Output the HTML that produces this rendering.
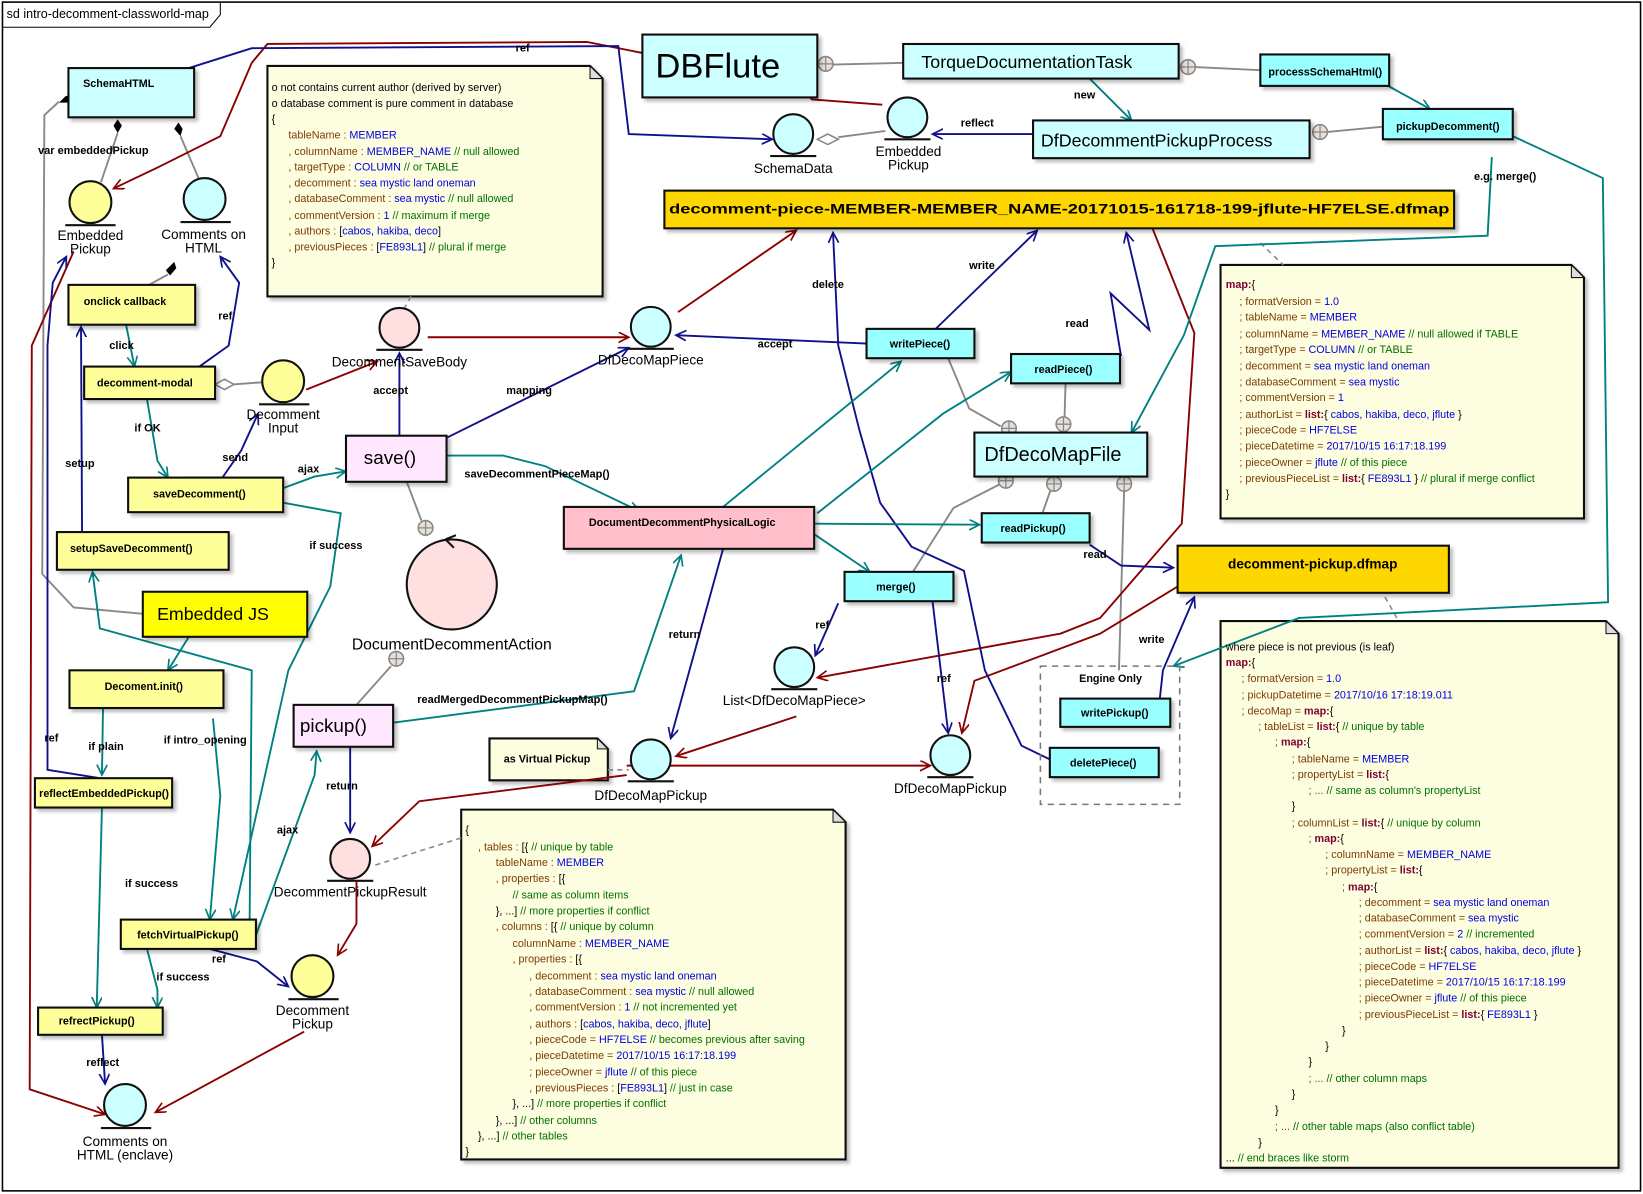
<!DOCTYPE html>
<html><head><meta charset="utf-8"><style>
html,body{margin:0;padding:0;background:#fff}
svg{display:block}
text{font-family:"Liberation Sans","Noto Sans CJK JP",sans-serif}
.b{font-weight:bold;font-size:10.3px}
.lb{font-size:10.5px;font-weight:bold}
.n{font-size:10.3px}
.k{fill:#7a3d00}.v{fill:#0000e0}.c{fill:#007000}.m{fill:#7a0030;font-weight:bold}
</style></head><body>
<svg width="1643" height="1194" viewBox="0 0 1568 1140" xmlns="http://www.w3.org/2000/svg">
<defs>
<marker id="aR" markerWidth="12" markerHeight="12" refX="10" refY="5" orient="auto" markerUnits="userSpaceOnUse"><path d="M0,0 L10,5 L0,10" fill="none" stroke="#8b0000" stroke-width="1.6"/></marker>
<marker id="aB" markerWidth="12" markerHeight="12" refX="10" refY="5" orient="auto" markerUnits="userSpaceOnUse"><path d="M0,0 L10,5 L0,10" fill="none" stroke="#10108a" stroke-width="1.6"/></marker>
<marker id="aT" markerWidth="12" markerHeight="12" refX="10" refY="5" orient="auto" markerUnits="userSpaceOnUse"><path d="M0,0 L10,5 L0,10" fill="none" stroke="#008080" stroke-width="1.6"/></marker>
<filter id="sh" x="-5%" y="-5%" width="115%" height="125%"><feDropShadow dx="3" dy="3" stdDeviation="1.5" flood-color="#000" flood-opacity="0.25"/></filter>
</defs>
<rect x="0" y="0" width="1568" height="1140" fill="#fff"/>
<rect x="2" y="2" width="1564" height="1135" fill="none" stroke="#000" stroke-width="1.5"/>
<path d="M2,26 L200,26 L210,14 L210,2" fill="none" stroke="#000"/>
<text x="6" y="17" font-size="12">sd intro-decomment-classworld-map</text>

<!-- notes -->
<g filter="url(#sh)" stroke="#111" stroke-width="2" fill="#fdfde0">
<path d="M255,63 L563,63 L575,75 L575,283 L255,283 Z"/>
<path d="M1165,253 L1500,253 L1512,265 L1512,495 L1165,495 Z"/>
<path d="M1165,593 L1533,593 L1545,605 L1545,1115 L1165,1115 Z"/>
<path d="M440,773 L795,773 L807,785 L807,1107 L440,1107 Z"/>
<path d="M467,705 L570,705 L580,715 L580,745 L467,745 Z"/>
</g>
<g fill="#ddd" stroke="#111"><path d="M563,63 L563,75 L575,75 Z"/><path d="M1500,253 L1500,265 L1512,265 Z"/><path d="M1533,593 L1533,605 L1545,605 Z"/><path d="M795,773 L795,785 L807,785 Z"/><path d="M570,705 L570,715 L580,715Z"/></g>

<g stroke="#888" stroke-dasharray="5,4" fill="none" stroke-width="1.5">
<path d="M392,283 L386,294"/><path d="M1203,232 L1225,253"/><path d="M1322,570 L1335,593"/><path d="M358,826 L440,800"/><path d="M580,735 L600,735"/>
</g>

<g stroke="#888" stroke-width="1.8" fill="none">
<path d="M780,62 L862,60"/><path d="M1141,64 L1203,67"/><path d="M1267,126 L1320,121"/>
<path d="M800,131 L845,125"/>
<path d="M56,97 L42,110 L40,548 L70,580 L136,586"/>
<path d="M112,127 L96,174"/><path d="M172,130 L190,172"/>
<path d="M160,262 L142,272"/>
<path d="M222,367 L250,365"/>
<path d="M388,460 L402,497"/>
<path d="M340,673 L373,636"/>
<path d="M905,342 L925,390 L955,407"/><path d="M1017,366 L1016,400"/>
<path d="M955,462 L910,485 L870,548"/><path d="M1003,467 L995,490"/><path d="M1073,467 L1068,640"/>
</g>
<g fill="#000"><path d="M62,92 L68,90 L64,98 L56,98 Z"/><path d="M112,114 L116,120 L112,127 L108,120 Z"/><path d="M170,117 L174,123 L172,130 L166,123 Z"/><path d="M166,250 L168,256 L162,263 L158,258 Z"/></g>
<g fill="#fff" stroke="#888" stroke-width="1.5"><path d="M780,133 L790,128 L800,133 L790,138 Z"/><path d="M205,367 L214,362 L223,367 L214,372 Z"/></g>
<g fill="#e8e0d8" stroke="#888" stroke-width="1.5">
<circle cx="788" cy="61" r="7"/><circle cx="1134" cy="64" r="7"/><circle cx="1260" cy="126" r="7"/>
<circle cx="406" cy="504" r="7"/><circle cx="378" cy="629" r="7"/>
<circle cx="963" cy="409" r="7"/><circle cx="1015" cy="405" r="7"/><circle cx="960" cy="459" r="7"/><circle cx="1006" cy="462" r="7"/><circle cx="1073" cy="462" r="7"/>
</g>
<g stroke="#888" stroke-width="1.2"><path d="M781,61h14M788,54v14M1127,64h14M1134,57v14M1253,126h14M1260,119v14M399,504h14M406,497v14M371,629h14M378,622v14M956,409h14M963,402v14M1008,405h14M1015,398v14M953,459h14M960,452v14M999,462h14M1006,455v14M1066,462h14M1073,455v14"/></g>

<g stroke="#8b0000" stroke-width="1.8" fill="none">
<path d="M842,100 L775,95 L760,80 L560,40 L255,42 L240,60 L210,130 L150,160 L108,180" marker-end="url(#aR)"/>
<path d="M70,240 L30,330 L28,1040 L100,1064" marker-end="url(#aR)"/>
<path d="M292,372 L360,345" marker-end="url(#aR)"/>
<path d="M408,322 L600,322" marker-end="url(#aR)"/>
<path d="M647,298 L760,220" marker-end="url(#aR)"/>
<path d="M1100,218 L1140,318 L1128,500 L1050,590 L1012,605 L780,647" marker-end="url(#aR)"/>
<path d="M1124,560 L1050,605 L930,650 L918,700" marker-end="url(#aR)"/>
<path d="M598,731 L888,731" marker-end="url(#aR)"/>
<path d="M760,684 L645,722" marker-end="url(#aR)"/>
<path d="M598,740 L400,765 L355,808" marker-end="url(#aR)"/>
<path d="M340,842 L340,882 L322,912" marker-end="url(#aR)"/>
<path d="M290,985 L148,1062" marker-end="url(#aR)"/>
</g>

<g stroke="#10108a" stroke-width="1.8" fill="none">
<path d="M180,65 L240,46 L590,44 L600,128 L737,133" marker-end="url(#aB)"/>
<path d="M985,128 L890,128" marker-end="url(#aB)"/>
<path d="M190,350 L218,330 L228,270 L210,245" marker-end="url(#aB)"/>
<path d="M95,743 L45,735 L45,330 L50,270 L63,245" marker-end="url(#aB)"/>
<path d="M78,508 L77,312" marker-end="url(#aB)"/>
<path d="M175,456 L212,456 L230,430 L246,395" marker-end="url(#aB)"/>
<path d="M381,416 L381,337" marker-end="url(#aB)"/>
<path d="M426,418 L600,332" marker-end="url(#aB)"/>
<path d="M827,328 L645,320" marker-end="url(#aB)"/>
<path d="M893,314 L990,220" marker-end="url(#aB)"/>
<path d="M1070,340 L1060,280 L1097,315 L1075,222" marker-end="url(#aB)"/>
<path d="M1002,725 L975,712 L940,640 L920,545 L870,522 L840,480 L820,410 L800,330 L795,222" marker-end="url(#aB)"/>
<path d="M1040,520 L1070,540 L1120,542" marker-end="url(#aB)"/>
<path d="M1107,667 L1110,640 L1140,570" marker-end="url(#aB)"/>
<path d="M690,524 L640,705" marker-end="url(#aB)"/>
<path d="M334,713 L334,795" marker-end="url(#aB)"/>
<path d="M200,906 L245,918 L275,942" marker-end="url(#aB)"/>
<path d="M97,988 L100,1035" marker-end="url(#aB)"/>
<path d="M890,574 L905,700" marker-end="url(#aB)"/>
<path d="M800,576 L778,626" marker-end="url(#aB)"/>
</g>

<g stroke="#008080" stroke-width="1.8" fill="none">
<path d="M120,310 L128,350" marker-end="url(#aT)"/>
<path d="M140,381 L150,440 L160,456" marker-end="url(#aT)"/>
<path d="M270,466 L300,455 L330,450" marker-end="url(#aT)"/>
<path d="M426,435 L480,435 L520,445 L610,488" marker-end="url(#aT)"/>
<path d="M270,480 L325,490 L315,560 L275,640 L222,878" marker-end="url(#aT)"/>
<path d="M375,690 L605,660 L650,530" marker-end="url(#aT)"/>
<path d="M244,893 L300,740 L302,717" marker-end="url(#aT)"/>
<path d="M140,906 L150,945 L150,962" marker-end="url(#aT)"/>
<path d="M98,676 L97,740" marker-end="url(#aT)"/>
<path d="M203,686 L210,760 L200,878" marker-end="url(#aT)"/>
<path d="M97,771 L92,962" marker-end="url(#aT)"/>
<path d="M180,608 L160,640" marker-end="url(#aT)"/>
<path d="M238,878 L240,640 L95,600 L88,546" marker-end="url(#aT)"/>
<path d="M777,510 L830,546" marker-end="url(#aT)"/>
<path d="M777,500 L935,501" marker-end="url(#aT)"/>
<path d="M690,484 L860,345" marker-end="url(#aT)"/>
<path d="M780,490 L900,395 L965,355" marker-end="url(#aT)"/>
<path d="M1424,150 L1420,225 L1160,235 L1130,320 L1080,413" marker-end="url(#aT)"/>
<path d="M1444,130 L1530,170 L1535,575 L1240,590 L1120,636" marker-end="url(#aT)"/>
<path d="M1325,82 L1365,104" marker-end="url(#aT)"/>
<path d="M1040,75 L1080,115" marker-end="url(#aT)"/>
</g>

<g stroke="#111" stroke-width="2" filter="url(#sh)">
<rect x="65" y="65" width="120" height="47" fill="#ccffff"/>
<rect x="613" y="33" width="167" height="60" fill="#ccffff"/>
<rect x="862" y="42" width="263" height="33" fill="#ccffff"/>
<rect x="1203" y="52" width="123" height="30" fill="#99ffff"/>
<rect x="1320" y="104" width="124" height="29" fill="#99ffff"/>
<rect x="986" y="115" width="264" height="36" fill="#ccffff"/>
<rect x="634" y="182" width="754" height="36" fill="#ffd700"/>
<rect x="1124" y="521" width="259" height="45" fill="#ffd700"/>
<rect x="827" y="314" width="103" height="28" fill="#99ffff"/>
<rect x="965" y="338" width="104" height="28" fill="#99ffff"/>
<rect x="930" y="413" width="165" height="42" fill="#ccffff"/>
<rect x="937" y="490" width="103" height="28" fill="#99ffff"/>
<rect x="806" y="546" width="104" height="28" fill="#99ffff"/>
<rect x="538" y="484" width="239" height="40" fill="#ffc0cb"/>
<rect x="330" y="416" width="96" height="44" fill="#ffe8ff"/>
<rect x="280" y="673" width="95" height="40" fill="#ffe8ff"/>
<rect x="65" y="272" width="121" height="38" fill="#ffff99"/>
<rect x="80" y="350" width="125" height="31" fill="#ffff99"/>
<rect x="122" y="456" width="148" height="33" fill="#ffff99"/>
<rect x="54" y="508" width="164" height="36" fill="#ffff99"/>
<rect x="136" y="565" width="157" height="43" fill="#ffff00"/>
<rect x="66" y="640" width="147" height="36" fill="#ffff99"/>
<rect x="33" y="743" width="131" height="28" fill="#ffff99"/>
<rect x="115" y="878" width="129" height="28" fill="#ffff99"/>
<rect x="36" y="962" width="119" height="26" fill="#ffff99"/>
<rect x="1012" y="667" width="105" height="27" fill="#99ffff"/>
<rect x="1002" y="714" width="104" height="28" fill="#99ffff"/>
</g>
<rect x="993" y="636" width="133" height="132" fill="none" stroke="#777" stroke-width="1.5" stroke-dasharray="6,5"/>

<g stroke="#111" stroke-width="2">
<circle cx="86" cy="193" r="20" fill="#ffff99"/><path d="M62,215h48"/>
<circle cx="195" cy="190" r="20" fill="#ccffff"/><path d="M172,212h48"/>
<circle cx="757" cy="128" r="19" fill="#ccffff"/><path d="M735,149h44"/>
<circle cx="866" cy="112" r="19" fill="#ccffff"/><path d="M844,133h44"/>
<circle cx="381" cy="313" r="19" fill="#ffe0e0"/><path d="M359,334h44"/>
<circle cx="621" cy="312" r="19" fill="#ccffff"/><path d="M599,333h44"/>
<circle cx="270" cy="364" r="20" fill="#ffff99"/><path d="M247,386h48"/>
<circle cx="431" cy="558" r="43" fill="#ffe0e0"/><path d="M425,515 l10,-4 M425,515 l8,8" fill="none"/>
<circle cx="758" cy="637" r="19" fill="#ccffff"/><path d="M736,658h44"/>
<circle cx="621" cy="725" r="19" fill="#ccffff"/><path d="M599,746h44"/>
<circle cx="907" cy="721" r="19" fill="#ccffff"/><path d="M885,742h44"/>
<circle cx="334" cy="820" r="19" fill="#ffe0e0"/><path d="M312,841h44"/>
<circle cx="298" cy="932" r="20" fill="#ffff99"/><path d="M275,954h48"/>
<circle cx="119" cy="1055" r="20" fill="#ccffff"/><path d="M96,1077h48"/>
</g>

<g text-anchor="middle">
<text x="113" y="83" class="b">SchemaHTML</text>
<text x="685" y="74" font-size="33">DBFlute</text>
<text x="980" y="65" font-size="17">TorqueDocumentationTask</text>
<text x="1265" y="72" class="b">processSchemaHtml()</text>
<text x="1382" y="124" class="b">pickupDecomment()</text>
<text x="1104" y="140" font-size="17">DfDecommentPickupProcess</text>
<text x="1011" y="204" font-size="13" font-weight="bold" textLength="745" lengthAdjust="spacingAndGlyphs">decomment-piece-MEMBER-MEMBER_NAME-20171015-161718-199-jflute-HF7ELSE.dfmap</text>
<text x="1253" y="543" font-size="13" font-weight="bold">decomment-pickup.dfmap</text>
<text x="878" y="332" class="b">writePiece()</text>
<text x="1015" y="356" class="b">readPiece()</text>
<text x="1005" y="440" font-size="19">DfDecoMapFile</text>
<text x="986" y="508" class="b">readPickup()</text>
<text x="855" y="564" class="b">merge()</text>
<text x="651" y="502" class="b">DocumentDecommentPhysicalLogic</text>
<text x="372" y="443" font-size="18">save()</text>
<text x="318" y="699" font-size="18">pickup()</text>
<text x="119" y="291" class="b">onclick callback</text>
<text x="138" y="369" class="b">decomment-modal</text>
<text x="190" y="475" class="b">saveDecomment()</text>
<text x="125" y="527" class="b">setupSaveDecomment()</text>
<text x="203" y="592" font-size="17">Embedded JS</text>
<text x="137" y="659" class="b">Decoment.init()</text>
<text x="99" y="761" class="b">reflectEmbeddedPickup()</text>
<text x="179" y="896" class="b">fetchVirtualPickup()</text>
<text x="92" y="978" class="b">refrectPickup()</text>
<text x="1060" y="651" class="b">Engine Only</text>
<text x="1064" y="684" class="b">writePickup()</text>
<text x="1053" y="732" class="b">deletePiece()</text>
<text x="522" y="728" class="b">as Virtual Pickup</text>
<g font-size="13">
<text x="86" y="229">Embedded</text><text x="86" y="242">Pickup</text>
<text x="194" y="228">Comments on</text><text x="194" y="241">HTML</text>
<text x="757" y="165">SchemaData</text>
<text x="867" y="149">Embedded</text><text x="867" y="162">Pickup</text>
<text x="381" y="350">DecommentSaveBody</text>
<text x="621" y="348">DfDecoMapPiece</text>
<text x="270" y="400">Decomment</text><text x="270" y="413">Input</text>
<text x="431" y="620" font-size="15">DocumentDecommentAction</text>
<text x="758" y="673">List&lt;DfDecoMapPiece&gt;</text>
<text x="621" y="764">DfDecoMapPickup</text>
<text x="907" y="757">DfDecoMapPickup</text>
<text x="334" y="856">DecommentPickupResult</text>
<text x="298" y="969">Decomment</text><text x="298" y="982">Pickup</text>
<text x="119" y="1094">Comments on</text><text x="119" y="1107">HTML (enclave)</text>
</g>
</g>

<g class="lb">
<text x="492" y="49">ref</text>
<text x="917" y="121">reflect</text>
<text x="1025" y="94">new</text>
<text x="1407" y="172">e.g. merge()</text>
<text x="36" y="147">var embeddedPickup</text>
<text x="208" y="305">ref</text>
<text x="104" y="333">click</text>
<text x="128" y="412">if OK</text>
<text x="62" y="446">setup</text>
<text x="212" y="440">send</text>
<text x="284" y="451">ajax</text>
<text x="356" y="376">accept</text>
<text x="483" y="376">mapping</text>
<text x="723" y="332">accept</text>
<text x="925" y="257">write</text>
<text x="1017" y="312">read</text>
<text x="775" y="275">delete</text>
<text x="1034" y="533">read</text>
<text x="1087" y="614">write</text>
<text x="443" y="456">saveDecommentPieceMap()</text>
<text x="295" y="524">if success</text>
<text x="398" y="671">readMergedDecommentPickupMap()</text>
<text x="638" y="609">return</text>
<text x="311" y="754">return</text>
<text x="264" y="796">ajax</text>
<text x="778" y="600">ref</text>
<text x="894" y="651">ref</text>
<text x="84" y="716">if plain</text>
<text x="156" y="710">if intro_opening</text>
<text x="42" y="708">ref</text>
<text x="119" y="847">if success</text>
<text x="149" y="936">if success</text>
<text x="202" y="919">ref</text>
<text x="82" y="1018">reflect</text>
</g>

<g class="n">
<text x="259" y="87">o not contains current author (derived by server)</text>
<text x="259" y="102">o database comment is pure comment in database</text>
<text x="259" y="117">{</text>
<text x="275" y="132"><tspan class="k">tableName : </tspan><tspan class="v">MEMBER</tspan></text>
<text x="275" y="148"><tspan class="k">, columnName : </tspan><tspan class="v">MEMBER_NAME </tspan><tspan class="c">// null allowed</tspan></text>
<text x="275" y="163"><tspan class="k">, targetType : </tspan><tspan class="v">COLUMN </tspan><tspan class="c">// or TABLE</tspan></text>
<text x="275" y="178"><tspan class="k">, decomment : </tspan><tspan class="v">sea mystic land oneman</tspan></text>
<text x="275" y="193"><tspan class="k">, databaseComment : </tspan><tspan class="v">sea mystic </tspan><tspan class="c">// null allowed</tspan></text>
<text x="275" y="209"><tspan class="k">, commentVersion : </tspan><tspan class="v">1 </tspan><tspan class="c">// maximum if merge</tspan></text>
<text x="275" y="224"><tspan class="k">, authors : </tspan>[<tspan class="v">cabos, hakiba, deco</tspan>]</text>
<text x="275" y="239"><tspan class="k">, previousPieces : </tspan>[<tspan class="v">FE893L1</tspan>] <tspan class="c">// plural if merge</tspan></text>
<text x="259" y="254">}</text>
</g>

<g class="n">
<text x="1170" y="275"><tspan class="m">map:</tspan>{</text>
<text x="1183" y="291" class="k">; formatVersion = <tspan class="v">1.0</tspan></text>
<text x="1183" y="306" class="k">; tableName = <tspan class="v">MEMBER</tspan></text>
<text x="1183" y="322" class="k">; columnName = <tspan class="v">MEMBER_NAME </tspan><tspan class="c">// null allowed if TABLE</tspan></text>
<text x="1183" y="337" class="k">; targetType = <tspan class="v">COLUMN </tspan><tspan class="c">// or TABLE</tspan></text>
<text x="1183" y="353" class="k">; decomment = <tspan class="v">sea mystic land oneman</tspan></text>
<text x="1183" y="368" class="k">; databaseComment = <tspan class="v">sea mystic</tspan></text>
<text x="1183" y="383" class="k">; commentVersion = <tspan class="v">1</tspan></text>
<text x="1183" y="399" class="k">; authorList = <tspan class="m">list:</tspan><tspan fill="#000">{ </tspan><tspan class="v">cabos, hakiba, deco, jflute </tspan><tspan fill="#000">}</tspan></text>
<text x="1183" y="414" class="k">; pieceCode = <tspan class="v">HF7ELSE</tspan></text>
<text x="1183" y="429" class="k">; pieceDatetime = <tspan class="v">2017/10/15 16:17:18.199</tspan></text>
<text x="1183" y="445" class="k">; pieceOwner = <tspan class="v">jflute </tspan><tspan class="c">// of this piece</tspan></text>
<text x="1183" y="460" class="k">; previousPieceList = <tspan class="m">list:</tspan><tspan fill="#000">{ </tspan><tspan class="v">FE893L1 </tspan><tspan fill="#000">} </tspan><tspan class="c">// plural if merge conflict</tspan></text>
<text x="1170" y="475">}</text>
</g>

<g class="n">
<text x="1170" y="621">where piece is not previous (is leaf)</text>
<text x="1170" y="636"><tspan class="m">map:</tspan>{</text>
<text x="1185" y="651" class="k">; formatVersion = <tspan class="v">1.0</tspan></text>
<text x="1185" y="667" class="k">; pickupDatetime = <tspan class="v">2017/10/16 17:18:19.011</tspan></text>
<text x="1185" y="682" class="k">; decoMap = <tspan class="m">map:</tspan><tspan fill="#000">{</tspan></text>
<text x="1201" y="697" class="k">; tableList = <tspan class="m">list:</tspan><tspan fill="#000">{ </tspan><tspan class="c">// unique by table</tspan></text>
<text x="1217" y="712" class="k">; <tspan class="m">map:</tspan><tspan fill="#000">{</tspan></text>
<text x="1233" y="728" class="k">; tableName = <tspan class="v">MEMBER</tspan></text>
<text x="1233" y="743" class="k">; propertyList = <tspan class="m">list:</tspan><tspan fill="#000">{</tspan></text>
<text x="1249" y="758" class="k">; ... <tspan class="c">// same as column's propertyList</tspan></text>
<text x="1233" y="773">}</text>
<text x="1233" y="789" class="k">; columnList = <tspan class="m">list:</tspan><tspan fill="#000">{ </tspan><tspan class="c">// unique by column</tspan></text>
<text x="1249" y="804" class="k">; <tspan class="m">map:</tspan><tspan fill="#000">{</tspan></text>
<text x="1265" y="819" class="k">; columnName = <tspan class="v">MEMBER_NAME</tspan></text>
<text x="1265" y="834" class="k">; propertyList = <tspan class="m">list:</tspan><tspan fill="#000">{</tspan></text>
<text x="1281" y="850" class="k">; <tspan class="m">map:</tspan><tspan fill="#000">{</tspan></text>
<text x="1297" y="865" class="k">; decomment = <tspan class="v">sea mystic land oneman</tspan></text>
<text x="1297" y="880" class="k">; databaseComment = <tspan class="v">sea mystic</tspan></text>
<text x="1297" y="895" class="k">; commentVersion = <tspan class="v">2 </tspan><tspan class="c">// incremented</tspan></text>
<text x="1297" y="911" class="k">; authorList = <tspan class="m">list:</tspan><tspan fill="#000">{ </tspan><tspan class="v">cabos, hakiba, deco, jflute </tspan><tspan fill="#000">}</tspan></text>
<text x="1297" y="926" class="k">; pieceCode = <tspan class="v">HF7ELSE</tspan></text>
<text x="1297" y="941" class="k">; pieceDatetime = <tspan class="v">2017/10/15 16:17:18.199</tspan></text>
<text x="1297" y="956" class="k">; pieceOwner = <tspan class="v">jflute </tspan><tspan class="c">// of this piece</tspan></text>
<text x="1297" y="972" class="k">; previousPieceList = <tspan class="m">list:</tspan><tspan fill="#000">{ </tspan><tspan class="v">FE893L1 </tspan><tspan fill="#000">}</tspan></text>
<text x="1281" y="987">}</text>
<text x="1265" y="1002">}</text>
<text x="1249" y="1017">}</text>
<text x="1249" y="1033" class="k">; ... <tspan class="c">// other column maps</tspan></text>
<text x="1233" y="1048">}</text>
<text x="1217" y="1063">}</text>
<text x="1217" y="1079" class="k">; ... <tspan class="c">// other table maps (also conflict table)</tspan></text>
<text x="1201" y="1094">}</text>
<text x="1170" y="1109">... <tspan class="c">// end braces like storm</tspan></text>
</g>

<g class="n">
<text x="444" y="796">{</text>
<text x="456" y="812" class="k">, tables : <tspan fill="#000">[{ </tspan><tspan class="c">// unique by table</tspan></text>
<text x="473" y="827" class="k">tableName : <tspan class="v">MEMBER</tspan></text>
<text x="473" y="842" class="k">, properties : <tspan fill="#000">[{</tspan></text>
<text x="489" y="858" class="c">// same as column items</text>
<text x="473" y="873">}, ...] <tspan class="c">// more properties if conflict</tspan></text>
<text x="473" y="888" class="k">, columns : <tspan fill="#000">[{ </tspan><tspan class="c">// unique by column</tspan></text>
<text x="489" y="904" class="k">columnName : <tspan class="v">MEMBER_NAME</tspan></text>
<text x="489" y="919" class="k">, properties : <tspan fill="#000">[{</tspan></text>
<text x="505" y="935" class="k">, decomment : <tspan class="v">sea mystic land oneman</tspan></text>
<text x="505" y="950" class="k">, databaseComment : <tspan class="v">sea mystic </tspan><tspan class="c">// null allowed</tspan></text>
<text x="505" y="965" class="k">, commentVersion : <tspan class="v">1 </tspan><tspan class="c">// not incremented yet</tspan></text>
<text x="505" y="981" class="k">, authors : <tspan fill="#000">[</tspan><tspan class="v">cabos, hakiba, deco, jflute</tspan><tspan fill="#000">]</tspan></text>
<text x="505" y="996" class="k">, pieceCode = <tspan class="v">HF7ELSE </tspan><tspan class="c">// becomes previous after saving</tspan></text>
<text x="505" y="1011" class="k">, pieceDatetime = <tspan class="v">2017/10/15 16:17:18.199</tspan></text>
<text x="505" y="1027" class="k">; pieceOwner = <tspan class="v">jflute </tspan><tspan class="c">// of this piece</tspan></text>
<text x="505" y="1042" class="k">, previousPieces : <tspan fill="#000">[</tspan><tspan class="v">FE893L1</tspan><tspan fill="#000">] </tspan><tspan class="c">// just in case</tspan></text>
<text x="489" y="1057">}, ...] <tspan class="c">// more properties if conflict</tspan></text>
<text x="473" y="1073">}, ...] <tspan class="c">// other columns</tspan></text>
<text x="456" y="1088">}, ...] <tspan class="c">// other tables</tspan></text>
<text x="444" y="1103">}</text>
</g>
</svg>
</body></html>
